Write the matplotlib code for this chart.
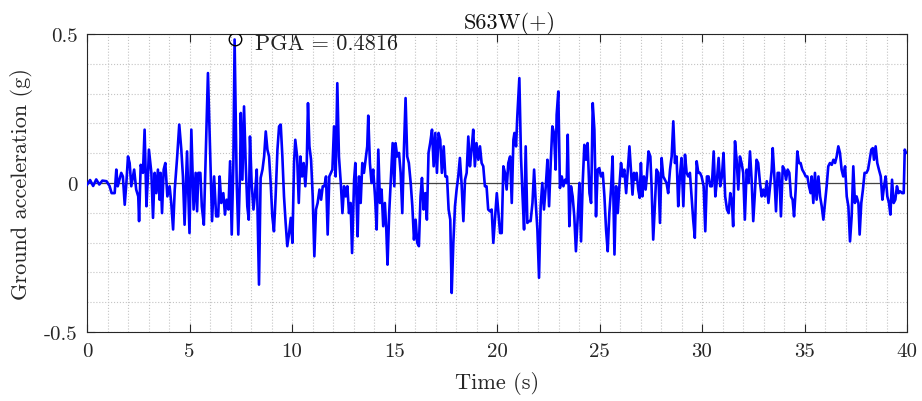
import numpy as np
import matplotlib
matplotlib.use("Agg")
import matplotlib.pyplot as plt
from matplotlib.ticker import MultipleLocator

# ---- data ----
time_s = [
    0.0, 0.15, 0.3, 0.45, 0.6, 0.75, 0.95, 1.1, 1.2, 1.35, 1.43, 1.5, 1.67, 1.75, 1.84, 1.92,
    2.0, 2.08, 2.16, 2.3, 2.4, 2.5, 2.54, 2.62, 2.73, 2.81, 2.9, 2.98, 3.02, 3.14, 3.22, 3.3,
    3.38, 3.46, 3.54, 3.59, 3.66, 3.74, 3.82, 3.92, 4.03, 4.11, 4.2, 4.28, 4.4, 4.5, 4.6, 4.68,
    4.76, 4.88, 5.0, 5.09, 5.2, 5.3, 5.37, 5.43, 5.53, 5.6, 5.7, 5.8, 5.9, 6.0, 6.1, 6.2,
    6.3, 6.4, 6.47, 6.55,
    6.65, 6.73, 6.81, 6.9, 6.98, 7.06, 7.14, 7.2, 7.3, 7.38, 7.47, 7.5, 7.58, 7.66, 7.74, 7.82,
    7.89, 7.95, 8.03, 8.12, 8.2, 8.28, 8.39, 8.47, 8.56, 8.64, 8.72, 8.8, 8.88, 8.96, 9.04, 9.12,
    9.2, 9.29, 9.37, 9.45, 9.53, 9.61, 9.69, 9.77, 9.86, 9.94, 10.02, 10.1, 10.16, 10.25, 10.33,
    10.41, 10.49, 10.57, 10.65, 10.72, 10.78, 10.85, 10.93, 11.01, 11.09, 11.17, 11.25, 11.34,
    11.42, 11.5, 11.58, 11.66, 11.74, 11.82, 11.9, 11.97, 12.05, 12.13, 12.21, 12.29, 12.38,
    12.46, 12.54, 12.62, 12.7, 12.78, 12.86, 12.93, 13.03, 13.09,
    13.15, 13.2, 13.27, 13.35, 13.43, 13.51, 13.59, 13.67, 13.72, 13.8, 13.88, 13.96, 14.05,
    14.13, 14.21, 14.29, 14.37, 14.45, 14.53, 14.6, 14.66, 14.74, 14.83, 14.91, 14.99, 15.05,
    15.13, 15.22, 15.3, 15.38, 15.46, 15.54, 15.62, 15.7, 15.79, 15.87, 15.95, 16.03, 16.11,
    16.19, 16.27, 16.34, 16.42, 16.5, 16.58, 16.66, 16.74, 16.83, 16.91, 16.99, 17.07, 17.15,
    17.23, 17.31, 17.4, 17.48, 17.56, 17.64, 17.72, 17.79, 17.87, 17.95, 18.03, 18.11, 18.19,
    18.27, 18.36, 18.44, 18.52, 18.6, 18.68, 18.76, 18.84, 18.92, 19.0, 19.09, 19.17, 19.25,
    19.33, 19.41, 19.49, 19.57, 19.66,
    19.74, 19.82, 19.9, 19.99, 20.07, 20.15, 20.23, 20.31, 20.39, 20.47, 20.55, 20.64, 20.72,
    20.8, 20.85, 20.93, 20.99, 21.09, 21.17, 21.24, 21.32, 21.4, 21.48, 21.56, 21.64, 21.73,
    21.81, 21.89, 21.97, 22.05, 22.13, 22.21, 22.29, 22.38, 22.46, 22.54, 22.62, 22.7, 22.78,
    22.86, 22.91, 22.99, 23.07, 23.16, 23.24, 23.32, 23.4, 23.45, 23.53, 23.61, 23.69, 23.77,
    23.85, 23.94, 24.02, 24.1, 24.18, 24.26, 24.34, 24.42, 24.51, 24.59, 24.67, 24.75, 24.83,
    24.91, 24.99, 25.07, 25.16, 25.24, 25.32, 25.4, 25.48, 25.56, 25.64, 25.73, 25.81, 25.89,
    25.97, 26.05, 26.13, 26.21, 26.3,
    26.38, 26.46, 26.53, 26.61, 26.68, 26.74, 26.81, 26.89, 26.96, 27.02, 27.09, 27.17, 27.25,
    27.31, 27.39, 27.48, 27.54, 27.62, 27.7, 27.78, 27.87, 27.95, 28.03, 28.11, 28.19, 28.27,
    28.35, 28.44, 28.52, 28.6, 28.68, 28.76, 28.84, 28.92, 29.0, 29.09, 29.17, 29.25, 29.33,
    29.41, 29.49, 29.57, 29.65, 29.74, 29.82, 29.9, 29.98, 30.08, 30.16, 30.24, 30.32, 30.4,
    30.48, 30.57, 30.65, 30.73, 30.81, 30.89, 30.97, 31.05, 31.13, 31.22, 31.3, 31.38, 31.46,
    31.52, 31.61, 31.69, 31.77, 31.85, 31.93, 32.01, 32.09, 32.18, 32.26, 32.34, 32.42, 32.5,
    32.58, 32.66, 32.74, 32.83,
    32.91, 32.99, 33.07, 33.16, 33.24, 33.32, 33.4, 33.45, 33.53, 33.61, 33.69, 33.77, 33.85,
    33.94, 34.02, 34.1, 34.18, 34.26, 34.34, 34.42, 34.49, 34.57, 34.65, 34.73, 34.81, 34.89,
    34.98, 35.06, 35.14, 35.22, 35.3, 35.35, 35.43, 35.51, 35.59, 35.68, 35.76, 35.84, 35.92,
    36.0, 36.08, 36.16, 36.24, 36.33, 36.41, 36.49, 36.57, 36.65, 36.73, 36.81, 36.89, 36.98,
    37.06, 37.14, 37.22, 37.3, 37.38, 37.46, 37.54, 37.63, 37.69, 37.77, 37.85, 37.93, 38.02,
    38.1, 38.18, 38.26, 38.33, 38.39, 38.47, 38.55, 38.63, 38.72, 38.8, 38.88, 38.96, 39.04,
    39.12, 39.19, 39.27, 39.35, 39.43, 39.51, 39.59, 39.67, 39.76, 39.84, 39.89, 39.95,
]

accel_g = [
    -0.006, 0.01, -0.01, 0.012, -0.005, 0.008, 0.006, -0.01, -0.034, -0.034, 0.045, -0.011,
    0.034, 0.022, -0.073, 0.0, 0.089, 0.067, -0.011, 0.045, -0.022, -0.045, -0.128, 0.061,
    0.034, 0.179, -0.078, 0.034, 0.112, 0.034, -0.117, 0.034, -0.034, 0.045, -0.056, 0.034,
    -0.101, 0.045, 0.067, -0.045, -0.011, -0.067, -0.156, -0.022, 0.089, 0.196, 0.112, 0.022,
    -0.140, 0.106, -0.168, 0.179, -0.089, 0.034, -0.095, 0.034, 0.034, -0.078, -0.140, 0.112,
    0.369, 0.123, -0.128, 0.022, -0.112, -0.112, 0.022, -0.067,
    -0.034, -0.106, -0.056, -0.089, 0.073, -0.173, 0.067, 0.4816, 0.011, -0.173, 0.045, 0.235,
    0.011, 0.257, 0.067, -0.078, -0.123, 0.156, 0.0, -0.089, -0.034, 0.045, -0.341, 0.017,
    0.045, 0.089, 0.173, 0.112, 0.089, 0.0, -0.112, -0.162, -0.045, 0.112, 0.190, 0.196,
    0.089, -0.045, -0.134, -0.212, -0.168, -0.117, -0.201, 0.067, 0.145, 0.089, -0.067,
    0.089, 0.022, 0.067, -0.011, 0.067, 0.268, 0.123, 0.078, -0.045, -0.246, -0.089, -0.067,
    -0.022, -0.056, -0.011, -0.011, 0.022, -0.173, 0.022, 0.034, 0.045, 0.190, 0.022, 0.335,
    0.089, 0.0, -0.101, -0.011, -0.045, -0.011, -0.101, -0.067, -0.235, 0.011, 0.067,
    -0.056, -0.179, 0.022, -0.067, 0.067, 0.034, 0.078, 0.123, 0.226, 0.067, 0.0, 0.045,
    -0.045, -0.156, 0.112, -0.067, -0.022, -0.145, -0.067, -0.156, -0.274, -0.101, 0.022,
    0.134, -0.011, 0.134, 0.089, 0.101, 0.034, -0.101, 0.112, 0.285, 0.089, 0.067, 0.0,
    -0.078, -0.190, -0.123, -0.201, -0.212, -0.045, 0.017, -0.089, -0.034, -0.123, 0.101,
    0.134, 0.179, 0.056, 0.168, 0.034, 0.168, 0.145, 0.034, 0.123, 0.022, 0.022, -0.089,
    -0.123, -0.369, -0.201, -0.078, -0.022, 0.022, 0.084, 0.0, -0.128, 0.011, 0.034, 0.156,
    0.056, 0.112, 0.179, 0.056, 0.134, 0.078, 0.123, 0.067, 0.056, -0.011, -0.011, -0.089,
    -0.095,
    -0.089, -0.201, -0.123, -0.034, -0.101, -0.168, -0.168, 0.056, 0.034, -0.022, 0.067,
    0.089, -0.067, 0.145, 0.168, 0.123, 0.223, 0.352, 0.089, -0.034, -0.156, 0.123, -0.134,
    -0.128, -0.128, -0.067, 0.045, -0.067, -0.156, -0.318, -0.078, 0.0, -0.089, -0.011,
    0.078, -0.078, 0.067, 0.190, 0.168, 0.045, 0.229, 0.307, -0.017, 0.022, -0.011, 0.011,
    0.0, 0.162, -0.145, -0.011, -0.045, -0.112, -0.229, -0.112, 0.0, -0.196, 0.0, 0.128,
    0.078, 0.134, -0.034, -0.067, 0.268, 0.179, -0.112, 0.045, 0.050, 0.022, 0.034, -0.045,
    -0.156, -0.229, -0.101, -0.022, 0.089, -0.240, -0.011, -0.101, -0.011, 0.067, 0.022,
    0.045, -0.034,
    0.045, 0.123, 0.045, -0.039, 0.034, 0.011, 0.034, -0.022, -0.050, 0.067, -0.045, 0.022,
    -0.022, 0.022, 0.106, 0.089, -0.011, -0.190, -0.078, 0.045, 0.034, -0.134, 0.084, 0.022,
    0.011, 0.0, -0.034, 0.045, 0.089, 0.207, 0.067, 0.089, -0.078, 0.022, 0.084, -0.078,
    0.095, 0.034, 0.022, 0.034, -0.045, -0.123, -0.184, 0.073, 0.034, 0.034, 0.022, -0.011,
    -0.162, 0.022, 0.022, -0.011, -0.011, 0.106, -0.045, 0.011, 0.084, -0.011, 0.022, 0.101,
    -0.045, -0.089, -0.101, -0.034, -0.067, -0.145, 0.140, 0.078, -0.022, 0.089, 0.067,
    0.034, -0.123, 0.045, 0.0, 0.106, 0.011, -0.128, -0.034, 0.078, 0.067, 0.0,
    -0.045, -0.022, -0.045, 0.006, -0.067, -0.011, 0.045, 0.117, 0.022, -0.095, 0.034, 0.034,
    -0.112, 0.056, 0.045, 0.011, 0.045, 0.034, -0.045, -0.056, -0.112, -0.022, 0.106, 0.067,
    0.067, 0.045, 0.034, 0.022, 0.022, -0.011, -0.034, 0.022, -0.067, 0.034, -0.056, 0.022,
    -0.045, -0.078, -0.123, -0.067, -0.011, 0.056, 0.067, 0.061, 0.078, 0.067, 0.089, 0.123,
    0.101, 0.045, 0.022, 0.056, -0.045, -0.078, -0.196, -0.112, 0.056, -0.067, -0.045,
    -0.067, -0.173, -0.067, -0.022, 0.034, 0.034, 0.045, 0.078, 0.112, 0.117, 0.078, 0.123,
    0.067, 0.045, 0.022, -0.056, -0.011, 0.022, -0.045, -0.067, -0.106, 0.011, -0.067,
    -0.056, -0.011, -0.034, -0.028, -0.034, -0.034, 0.112, 0.101,
]

pga_time = 7.2
pga_value = 0.4816
title_text = "S63W(+)"
x_label = "Time (s)"
y_label = "Ground acceleration (g)"
x_ticks = [0, 5, 10, 15, 20, 25, 30, 35, 40]
y_ticks = [-0.5, 0, 0.5]
y_tick_labels = ["-0.5", "0", "0.5"]

# ---- figure ----
FONT = "cmr10"
plt.rcParams["font.family"] = [FONT, "DejaVu Serif"]
plt.rcParams["mathtext.fontset"] = "cm"

fig = plt.figure(figsize=(9.22, 4.02), dpi=100)
ax = fig.add_axes([87 / 922, 1 - 333 / 402, 820 / 922, 298 / 402])

ax.set_xlim(0, 40)
ax.set_ylim(-0.5, 0.5)

ax.xaxis.set_minor_locator(MultipleLocator(1))
ax.yaxis.set_minor_locator(MultipleLocator(0.1))
ax.grid(which="both", color="#c4c4c4", linestyle=":", linewidth=0.8)
ax.set_axisbelow(True)

ax.axhline(0, color="#444444", linewidth=0.9, zorder=2)
ax.plot(time_s, accel_g, color="#0000ff", linewidth=1.9, zorder=3)
ax.plot([pga_time], [pga_value], marker="o", markersize=9, markerfacecolor="none",
        markeredgecolor="black", markeredgewidth=1.0, linestyle="none", zorder=4)
ax.text(pga_time + 1.0, pga_value - 0.012, "PGA = %.4f" % pga_value, fontsize=16,
        va="center", ha="left", color="#222222")

ax.set_xticks(x_ticks)
ax.set_xticklabels([str(v) for v in x_ticks])
ax.set_yticks(y_ticks)
ax.set_yticklabels(y_tick_labels)
ax.tick_params(which="major", direction="in", length=6, width=0.8, top=True, right=True,
               labelsize=15, colors="#262626", pad=7)
ax.tick_params(which="minor", length=0, top=True, right=True)
for sp in ax.spines.values():
    sp.set_color("#262626")
    sp.set_linewidth(0.8)

ax.set_title(title_text, fontsize=16, color="#111111", pad=4, x=0.515)
ax.set_xlabel(x_label, fontsize=16, color="#262626", labelpad=8)
ax.set_ylabel(y_label, fontsize=16, color="#262626", labelpad=8)

fig.savefig("out.png", dpi=100)
